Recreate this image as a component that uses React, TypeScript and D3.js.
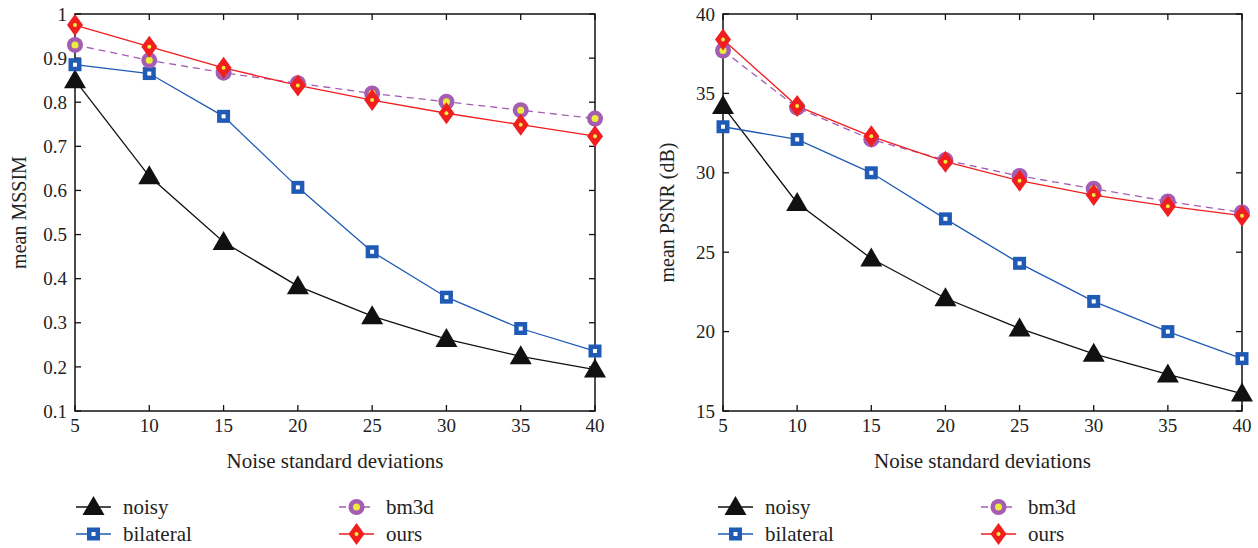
import React from "react";
import * as d3 from "d3";

const noise = [5, 10, 15, 20, 25, 30, 35, 40];

const mssimNoisy = [0.85, 0.632, 0.483, 0.383, 0.315, 0.263, 0.224, 0.194];
const mssimBilateral = [0.885, 0.865, 0.768, 0.607, 0.461, 0.358, 0.287, 0.236];
const mssimBm3d = [0.93, 0.895, 0.867, 0.843, 0.82, 0.801, 0.782, 0.763];
const mssimOurs = [0.975, 0.926, 0.878, 0.838, 0.805, 0.775, 0.749, 0.723];

const psnrNoisy = [34.2, 28.1, 24.6, 22.1, 20.2, 18.6, 17.3, 16.1];
const psnrBilateral = [32.9, 32.1, 30.0, 27.1, 24.3, 21.9, 20.0, 18.3];
const psnrBm3d = [37.7, 34.1, 32.1, 30.8, 29.8, 29.0, 28.2, 27.5];
const psnrOurs = [38.4, 34.2, 32.3, 30.7, 29.5, 28.6, 27.9, 27.3];

const mssimTicks = [0.1, 0.2, 0.3, 0.4, 0.5, 0.6, 0.7, 0.8, 0.9, 1];
const psnrTicks = [15, 20, 25, 30, 35, 40];

const FONT = "'Liberation Serif', 'DejaVu Serif', serif";
const BLUE = "#1f5bb5";
const PURPLE = "#a45db3";
const RED = "#f01e1e";
const YELLOW = "#ecec3a";

type Kind = "noisy" | "bilateral" | "bm3d" | "ours";

function Marker({ kind, x, y }: { kind: Kind; x: number; y: number }) {
  if (kind === "noisy") {
    return <path d={`M${x},${y - 11} L${x + 11},${y + 8} L${x - 11},${y + 8} Z`} fill="#111" />;
  }
  if (kind === "bilateral") {
    return (
      <g>
        <rect x={x - 6.5} y={y - 6.5} width={13} height={13} fill={BLUE} />
        <rect x={x - 2} y={y - 2} width={4} height={4} fill="#fff" />
      </g>
    );
  }
  if (kind === "bm3d") {
    return (
      <g>
        <circle cx={x} cy={y} r={8} fill={PURPLE} />
        <circle cx={x} cy={y} r={3.5} fill={YELLOW} />
      </g>
    );
  }
  return (
    <g>
      <path d={`M${x},${y - 11} L${x + 8},${y} L${x},${y + 11} L${x - 8},${y} Z`} fill={RED} />
      <circle cx={x} cy={y} r={2} fill={YELLOW} />
    </g>
  );
}

const styles: Record<Kind, { color: string; dash?: string }> = {
  noisy: { color: "#111" },
  bilateral: { color: BLUE },
  bm3d: { color: PURPLE, dash: "7,5" },
  ours: { color: RED },
};

function Panel({
  left,
  right,
  top,
  bottom,
  domain,
  ticks,
  ylabel,
  series,
  fmt,
}: {
  left: number;
  right: number;
  top: number;
  bottom: number;
  domain: [number, number];
  ticks: number[];
  ylabel: string;
  series: { kind: Kind; values: number[] }[];
  fmt: (v: number) => string;
}) {
  const x = d3.scaleLinear().domain([5, 40]).range([left, right]);
  const y = d3.scaleLinear().domain(domain).range([bottom, top]);
  const line = d3
    .line<number>()
    .x((_, i) => x(noise[i]))
    .y((d) => y(d));
  const tl = 6;
  return (
    <g>
      {series.map((s) => (
        <path
          key={s.kind + "l"}
          d={line(s.values) || ""}
          fill="none"
          stroke={styles[s.kind].color}
          strokeWidth={1.3}
          strokeDasharray={styles[s.kind].dash}
        />
      ))}
      <rect x={left} y={top} width={right - left} height={bottom - top} fill="none" stroke="#111" strokeWidth={1.5} />
      {noise.map((n) => (
        <g key={"xt" + n}>
          <line x1={x(n)} x2={x(n)} y1={bottom} y2={bottom - tl} stroke="#111" strokeWidth={1.3} />
          <line x1={x(n)} x2={x(n)} y1={top} y2={top + tl} stroke="#111" strokeWidth={1.3} />
          <text x={x(n)} y={bottom + 21} textAnchor="middle" fontSize={19} fontFamily={FONT} fill="#222">
            {n}
          </text>
        </g>
      ))}
      {ticks.map((t) => (
        <g key={"yt" + t}>
          <line x1={left} x2={left + tl} y1={y(t)} y2={y(t)} stroke="#111" strokeWidth={1.3} />
          <line x1={right} x2={right - tl} y1={y(t)} y2={y(t)} stroke="#111" strokeWidth={1.3} />
          <text x={left - 8} y={y(t)} dy="0.35em" textAnchor="end" fontSize={19} fontFamily={FONT} fill="#222">
            {fmt(t)}
          </text>
        </g>
      ))}
      {series.map((s) => (
        <g key={s.kind + "m"}>
          {s.values.map((v, i) => (
            <Marker key={i} kind={s.kind} x={x(noise[i])} y={y(v)} />
          ))}
        </g>
      ))}
      <text
        x={(left + right) / 2}
        y={bottom + 57}
        textAnchor="middle"
        fontSize={21}
        fontFamily={FONT}
        fill="#222"
      >
        Noise standard deviations
      </text>
      <text
        transform={`translate(${left - 49},${(top + bottom) / 2}) rotate(-90)`}
        textAnchor="middle"
        fontSize={20}
        fontFamily={FONT}
        fill="#222"
      >
        {ylabel}
      </text>
    </g>
  );
}

function LegendItem({ kind, x, y, label }: { kind: Kind; x: number; y: number; label: string }) {
  return (
    <g>
      <line
        x1={x}
        x2={x + 35}
        y1={y}
        y2={y}
        stroke={styles[kind].color}
        strokeWidth={1.3}
        strokeDasharray={kind === "bm3d" ? "7,5" : undefined}
      />
      <Marker kind={kind} x={x + 17.5} y={y} />
      <text x={x + 47} y={y} dy="0.32em" fontSize={21} fontFamily={FONT} fill="#222">
        {label}
      </text>
    </g>
  );
}

function Legend({ x0 }: { x0: number }) {
  return (
    <g>
      <LegendItem kind="noisy" x={x0} y={507} label="noisy" />
      <LegendItem kind="bilateral" x={x0} y={534} label="bilateral" />
      <LegendItem kind="bm3d" x={x0 + 263} y={507} label="bm3d" />
      <LegendItem kind="ours" x={x0 + 263} y={534} label="ours" />
    </g>
  );
}

export default function App() {
  return (
    <svg
      width={1258}
      height={548}
      style={{ position: "absolute", left: 0, top: 0, background: "#fff" }}
    >
      <Panel
        left={75}
        right={595}
        top={14}
        bottom={411}
        domain={[0.1, 1]}
        ticks={mssimTicks}
        ylabel="mean MSSIM"
        fmt={(v) => (v === 1 ? "1" : String(v))}
        series={[
          { kind: "noisy", values: mssimNoisy },
          { kind: "bilateral", values: mssimBilateral },
          { kind: "bm3d", values: mssimBm3d },
          { kind: "ours", values: mssimOurs },
        ]}
      />
      <Panel
        left={723}
        right={1242}
        top={14}
        bottom={411}
        domain={[15, 40]}
        ticks={psnrTicks}
        ylabel="mean PSNR (dB)"
        fmt={(v) => String(v)}
        series={[
          { kind: "noisy", values: psnrNoisy },
          { kind: "bilateral", values: psnrBilateral },
          { kind: "bm3d", values: psnrBm3d },
          { kind: "ours", values: psnrOurs },
        ]}
      />
      <Legend x0={76} />
      <Legend x0={718} />
    </svg>
  );
}
